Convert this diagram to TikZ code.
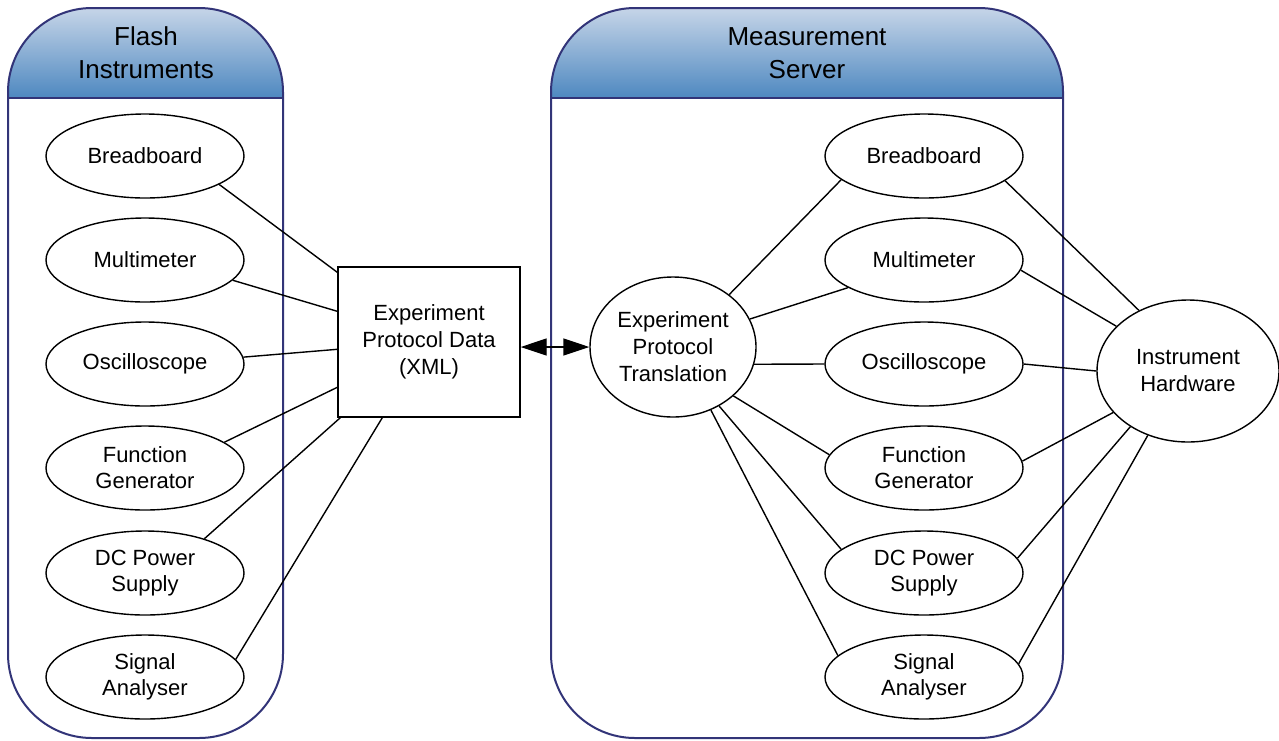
\documentclass[tikz,border=0pt]{standalone}
\usepackage{fontspec}
\setmainfont{Liberation Sans}
\usetikzlibrary{shapes.geometric,arrows.meta,calc}
\definecolor{panelline}{RGB}{50,52,120}
\definecolor{headtop}{RGB}{198,213,232}
\definecolor{headbot}{RGB}{78,136,192}
\tikzset{
  inst/.style={ellipse,draw=black,line width=1.4pt,minimum width=198pt,minimum height=84pt,
    inner sep=0pt,align=center,font=\fontsize{22pt}{26pt}\selectfont},
  bigell/.style={ellipse,draw=black,line width=1.4pt,inner sep=0pt,align=center,
    font=\fontsize{22pt}{27pt}\selectfont},
  databox/.style={rectangle,draw=black,line width=1.4pt,minimum width=182pt,minimum height=150pt,
    inner sep=0pt,align=center,font=\fontsize{22pt}{27pt}\selectfont},
  link/.style={draw=black,line width=1.4pt},
  panel/.style={draw=panelline,line width=2pt,rounded corners=84pt},
  header/.style={top color=headtop,bottom color=headbot},
  title/.style={align=center,font=\fontsize{26pt}{33pt}\selectfont}
}
\begin{document}
\begin{tikzpicture}[x=1pt,y=-1pt]
\useasboundingbox (0,0) rectangle (1279,740);

% headers of the two panels (y axis points down, so angles run clockwise)
\path[header] (8,98) -- (8,92) arc[start angle=180,end angle=270,radius=84] -- (199,8)
  arc[start angle=270,end angle=360,radius=84] -- (283,98) -- cycle;
\path[header] (551,98) -- (551,92) arc[start angle=180,end angle=270,radius=84] -- (979,8)
  arc[start angle=270,end angle=360,radius=84] -- (1063,98) -- cycle;

% panel outlines
\draw[panel] (8,8) rectangle (283,738);
\draw[panel] (551,8) rectangle (1063,738);
\draw[draw=panelline,line width=2pt] (8,98) -- (283,98);
\draw[draw=panelline,line width=2pt] (551,98) -- (1063,98);

\node[title] (tl) at (146,53) {Flash\\Instruments};
\node[title] (tr) at (807,53) {Measurement\\Server};

% left column
\node[inst] (lBB) at (145,156) {Breadboard};
\node[inst] (lMM) at (145,260) {Multimeter};
\node[inst] (lOS) at (145,364) {Oscilloscope};
\node[inst] (lFG) at (145,468) {Function\\Generator};
\node[inst] (lDC) at (145,573) {DC Power\\Supply};
\node[inst] (lSA) at (145,677) {Signal\\Analyser};

% protocol data
\node[databox] (box) at (429,342) {Experiment\\Protocol Data\\(XML)};
\coordinate (p1) at ([yshift=-6pt]box.north west);
\coordinate (p2) at ([yshift=-45pt]box.north west);
\coordinate (p3) at ([yshift=-83pt]box.north west);
\coordinate (p4) at ([yshift=-121pt]box.north west);
\coordinate (p5) at ([xshift=3pt]box.south west);
\coordinate (p6) at ([xshift=45pt]box.south west);

% translation
\node[bigell,minimum width=166pt,minimum height=140pt] (trn) at (673,347) {Experiment\\Protocol\\Translation};

% right column
\node[inst] (rBB) at (924,156) {Breadboard};
\node[inst] (rMM) at (924,260) {Multimeter};
\node[inst] (rOS) at (924,364) {Oscilloscope};
\node[inst] (rFG) at (924,468) {Function\\Generator};
\node[inst] (rDC) at (924,573) {DC Power\\Supply};
\node[inst] (rSA) at (924,677) {Signal\\Analyser};

% hardware
\node[bigell,minimum width=182pt,minimum height=142pt] (hw) at (1188,371) {Instrument\\Hardware};

% links left column -> data
\draw[link] (lBB.-21.7) -- (p1);
\draw[link] (lMM.-13.3) -- (p2);
\draw[link] (lOS.4) -- (p3);
\draw[link] (lFG.18.7) -- (p4);
\draw[link] (lDC.30) -- (p5);
\draw[link] (lSA.11.5) -- (p6);

% data <-> translation
\draw[link,{Triangle[length=26pt,width=17pt]}-{Triangle[length=26pt,width=17pt]}]
  (box.east |- trn.west) -- (trn.west);

% translation -> right column
\draw[link] (trn.43.4) -- (rBB.196);
\draw[link] (trn.20) -- (rMM.200);
\draw[link] (trn.-12) -- (rOS.west);
\draw[link] (trn.-39) -- (rFG.172);
\draw[link] (trn.-52) -- (rDC.164.7);
\draw[link] (trn.-59.4) -- (rSA.166);

% right column -> hardware
\draw[link] (rBB.-17.3) -- (hw.129);
\draw[link] (rMM.-6) -- (hw.148);
\draw[link] (rOS.east) -- (hw.west);
\draw[link] (rFG.4.7) -- (hw.-151);
\draw[link] (rDC.9) -- (hw.-136);
\draw[link] (rSA.8) -- (hw.-122);
\end{tikzpicture}
\end{document}
